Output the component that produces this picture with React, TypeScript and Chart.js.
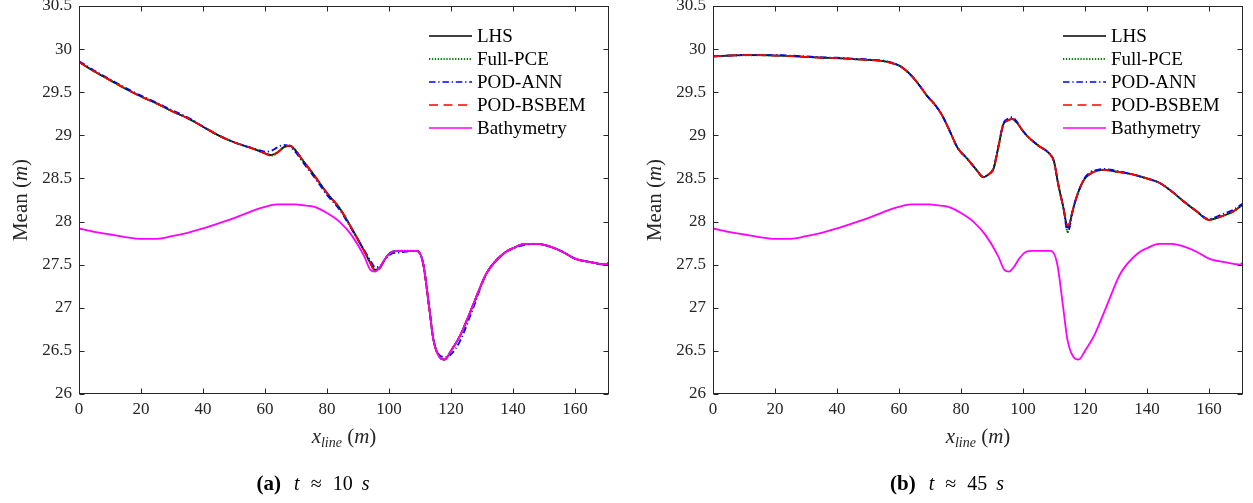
import React, { useEffect, useRef } from "react";
import { Chart, registerables } from "chart.js";
Chart.register(...registerables);

const FAM = "'Liberation Serif', 'Times New Roman', serif";

const SERIES = ["LHS", "Full-PCE", "POD-ANN", "POD-BSBEM", "Bathymetry"];
const COLORS = ["#000000", "#008000", "#0000ff", "#ff0000", "#ff00ff"];
const DASHES = [[], [1.3, 1.6], [6.5, 2.8, 1.3, 2.8], [9, 5.5], []];

const X_TICKS = [0, 20, 40, 60, 80, 100, 120, 140, 160];
const Y_TICKS = [26, 26.5, 27, 27.5, 28, 28.5, 29, 29.5, 30, 30.5];
const X_MIN = 0;
const X_MAX = 171;
const Y_MIN = 26;
const Y_MAX = 30.5;

// ---- panel (a): t ≈ 10 s, and the bathymetry (shared) ----
const xA = [0, 5, 10, 15, 20, 25, 30, 35, 40, 45, 50, 55, 58, 60, 62, 64, 66, 68, 70, 72, 76, 80, 84, 88, 92, 94, 95.5, 97, 99, 101, 103, 109, 111, 113, 114.3, 116.3, 118, 120, 123, 127, 131.5, 137, 140, 144, 148, 152, 156, 160, 165, 170, 171];

const bathy = [27.92, 27.88, 27.85, 27.82, 27.80, 27.80, 27.83, 27.87, 27.92, 27.98,
  28.04, 28.11, 28.15, 28.17, 28.19, 28.20, 28.20, 28.20, 28.20, 28.19,
  28.17, 28.10, 28.00, 27.84, 27.60, 27.44, 27.42, 27.47, 27.58, 27.65,
  27.66, 27.66, 27.52, 27.00, 26.64, 26.43, 26.40, 26.50, 26.68, 27.02,
  27.40, 27.63, 27.69, 27.74, 27.74, 27.71, 27.65, 27.57, 27.53, 27.50,
  27.53];

const lhsA = [29.85, 29.74, 29.64, 29.54, 29.45, 29.37, 29.28, 29.20, 29.10, 29.00,
  28.92, 28.86, 28.82, 28.79, 28.77, 28.80, 28.86, 28.88, 28.82, 28.72,
  28.53, 28.33, 28.16, 27.92, 27.66, 27.52, 27.44, 27.46, 27.58, 27.65,
  27.66, 27.66, 27.52, 27.00, 26.64, 26.43, 26.40, 26.50, 26.68, 27.02,
  27.40, 27.63, 27.69, 27.74, 27.74, 27.71, 27.65, 27.57, 27.53, 27.50,
  27.53];

const pceA = [29.85, 29.74, 29.64, 29.54, 29.45, 29.37, 29.28, 29.20, 29.10, 29.00,
  28.92, 28.86, 28.82, 28.79, 28.765, 28.80, 28.86, 28.88, 28.82, 28.72,
  28.53, 28.33, 28.16, 27.92, 27.66, 27.52, 27.43, 27.46, 27.58, 27.65,
  27.66, 27.66, 27.52, 27.00, 26.64, 26.43, 26.40, 26.50, 26.68, 27.02,
  27.40, 27.63, 27.69, 27.74, 27.74, 27.71, 27.65, 27.57, 27.53, 27.50,
  27.53];

const annA = [29.86, 29.75, 29.65, 29.55, 29.46, 29.38, 29.29, 29.21, 29.10, 29.00,
  28.92, 28.86, 28.83, 28.81, 28.82, 28.86, 28.89, 28.87, 28.80, 28.70,
  28.51, 28.31, 28.14, 27.91, 27.67, 27.55, 27.47, 27.48, 27.57, 27.63,
  27.64, 27.66, 27.52, 27.00, 26.64, 26.45, 26.43, 26.46, 26.62, 26.98,
  27.40, 27.63, 27.69, 27.73, 27.74, 27.71, 27.65, 27.57, 27.53, 27.50,
  27.53];

const bsbemA = [29.85, 29.74, 29.64, 29.54, 29.45, 29.37, 29.28, 29.20, 29.10, 29.00,
  28.92, 28.86, 28.82, 28.79, 28.76, 28.80, 28.86, 28.88, 28.82, 28.72,
  28.53, 28.33, 28.16, 27.92, 27.66, 27.52, 27.43, 27.46, 27.58, 27.65,
  27.66, 27.66, 27.52, 27.00, 26.64, 26.43, 26.40, 26.50, 26.68, 27.02,
  27.40, 27.63, 27.69, 27.74, 27.74, 27.71, 27.65, 27.57, 27.53, 27.50,
  27.53];

// ---- panel (b): t ≈ 45 s ----
const xB = [0, 5, 10, 15, 20, 25, 30, 35, 40, 45,
  50, 55, 58, 60, 62, 64.6, 67, 69, 71.5, 73.8,
  76, 79, 82, 85, 87.2, 89, 90.5, 92, 93.7, 95,
  96.5, 98, 100, 102, 105, 108.5, 110, 111.4, 113, 114.5,
  116, 117, 118.5, 120, 122, 124, 126, 130, 135, 140,
  144, 148, 152, 156, 160, 164, 168, 171];

const lhsB = [29.915, 29.925, 29.93, 29.93, 29.925, 29.92, 29.91, 29.90, 29.895, 29.885,
  29.875, 29.86, 29.835, 29.81, 29.76, 29.67, 29.56, 29.46, 29.36, 29.24,
  29.08, 28.85, 28.73, 28.60, 28.515, 28.55, 28.61, 28.85, 29.13, 29.17,
  29.19, 29.15, 29.05, 28.97, 28.88, 28.79, 28.70, 28.43, 28.17, 27.93,
  28.12, 28.25, 28.40, 28.50, 28.56, 28.59, 28.60, 28.58, 28.55, 28.50,
  28.45, 28.35, 28.23, 28.12, 28.02, 28.06, 28.12, 28.20];

const pceB = [29.915, 29.925, 29.93, 29.93, 29.925, 29.92, 29.91, 29.90, 29.895, 29.885,
  29.875, 29.86, 29.835, 29.81, 29.76, 29.67, 29.56, 29.46, 29.36, 29.24,
  29.08, 28.85, 28.73, 28.60, 28.515, 28.55, 28.61, 28.85, 29.13, 29.17,
  29.19, 29.15, 29.05, 28.97, 28.88, 28.79, 28.70, 28.43, 28.17, 27.88,
  28.12, 28.25, 28.40, 28.50, 28.56, 28.59, 28.60, 28.58, 28.55, 28.50,
  28.45, 28.35, 28.23, 28.12, 28.02, 28.06, 28.12, 28.20];

const annB = [29.915, 29.925, 29.93, 29.93, 29.93, 29.925, 29.915, 29.905, 29.90, 29.89,
  29.88, 29.865, 29.84, 29.81, 29.76, 29.67, 29.56, 29.46, 29.36, 29.24,
  29.08, 28.85, 28.73, 28.60, 28.52, 28.55, 28.62, 28.86, 29.14, 29.19,
  29.21, 29.16, 29.05, 28.97, 28.88, 28.79, 28.70, 28.43, 28.17, 27.88,
  28.12, 28.25, 28.40, 28.51, 28.58, 28.60, 28.61, 28.59, 28.55, 28.50,
  28.45, 28.35, 28.23, 28.12, 28.03, 28.08, 28.14, 28.21];

const bsbemB = [29.915, 29.925, 29.93, 29.93, 29.925, 29.92, 29.91, 29.90, 29.895, 29.885,
  29.875, 29.86, 29.835, 29.81, 29.76, 29.67, 29.56, 29.46, 29.36, 29.24,
  29.08, 28.85, 28.73, 28.60, 28.515, 28.55, 28.61, 28.85, 29.13, 29.17,
  29.19, 29.15, 29.05, 28.97, 28.88, 28.79, 28.70, 28.43, 28.17, 27.95,
  28.12, 28.25, 28.40, 28.50, 28.56, 28.59, 28.60, 28.58, 28.55, 28.50,
  28.45, 28.35, 28.23, 28.12, 28.02, 28.06, 28.12, 28.20];

type Run = { t: string; font: string; dy?: number };

function drawRuns(ctx: CanvasRenderingContext2D, runs: Run[], cx: number, baseY: number) {
  let w = 0;
  for (const r of runs) {
    ctx.font = r.font;
    w += ctx.measureText(r.t).width;
  }
  let x = cx - w / 2;
  ctx.textAlign = "left";
  ctx.textBaseline = "alphabetic";
  for (const r of runs) {
    ctx.font = r.font;
    ctx.fillText(r.t, x, baseY + (r.dy || 0));
    x += ctx.measureText(r.t).width;
  }
}

const framePlugin = {
  id: "matlabFrame",
  afterDraw(chart: any) {
    const { ctx, chartArea: a, scales } = chart;
    const xs = scales.x;
    const ys = scales.y;
    ctx.save();
    const L = Math.round(a.left) + 0.5;
    const T = Math.round(a.top) + 0.5;
    const R = Math.round(a.right) - 0.5;
    const B = Math.round(a.bottom) - 0.5;
    ctx.strokeStyle = "#262626";
    ctx.lineWidth = 1;
    ctx.setLineDash([]);
    ctx.strokeRect(L, T, R - L, B - T);
    const tl = 5;
    ctx.beginPath();
    for (const t of X_TICKS) {
      const px = Math.round(xs.getPixelForValue(t)) + 0.5;
      ctx.moveTo(px, B);
      ctx.lineTo(px, B - tl);
      ctx.moveTo(px, T);
      ctx.lineTo(px, T + tl);
    }
    for (const t of Y_TICKS) {
      const py = Math.round(ys.getPixelForValue(t)) + 0.5;
      ctx.moveTo(L, py);
      ctx.lineTo(L + tl, py);
      ctx.moveTo(R, py);
      ctx.lineTo(R - tl, py);
    }
    ctx.stroke();

    // legend
    const ds = chart.data.datasets;
    for (let i = 0; i < SERIES.length; i++) {
      const d = ds[i];
      const yRow = a.top + 30 + i * 23;
      ctx.beginPath();
      ctx.strokeStyle = d.borderColor;
      ctx.lineWidth = i === 1 ? 2 : 1.6;
      ctx.setLineDash(d.borderDash || []);
      ctx.moveTo(a.left + 350, yRow);
      ctx.lineTo(a.left + 393, yRow);
      ctx.stroke();
      ctx.setLineDash([]);
      ctx.fillStyle = "#000";
      ctx.font = `19px ${FAM}`;
      ctx.textAlign = "left";
      ctx.textBaseline = "middle";
      ctx.fillText(SERIES[i], a.left + 398, yRow + 1);
    }

    // axis titles
    ctx.fillStyle = "#262626";
    const cx = (a.left + a.right) / 2;
    drawRuns(
      ctx,
      [
        { t: "x", font: `italic 21px ${FAM}` },
        { t: "line", font: `italic 14px ${FAM}`, dy: 4 },
        { t: " (", font: `21px ${FAM}` },
        { t: "m", font: `italic 21px ${FAM}` },
        { t: ")", font: `21px ${FAM}` },
      ],
      cx,
      443
    );
    ctx.save();
    ctx.translate(27, (a.top + a.bottom) / 2);
    ctx.rotate(-Math.PI / 2);
    drawRuns(
      ctx,
      [
        { t: "Mean (", font: `21px ${FAM}` },
        { t: "m", font: `italic 21px ${FAM}` },
        { t: ")", font: `21px ${FAM}` },
      ],
      0,
      0
    );
    ctx.restore();
    ctx.restore();
  },
};

function makeConfig(xs: number[], series: number[][], padRight: number): any {
  const datasets = SERIES.map((name, i) => {
    const xx = i === 4 ? xA : xs;
    const yy = i === 4 ? bathy : series[i];
    return {
      label: name,
      data: xx.map((x, j) => ({ x, y: yy[j] })),
      borderColor: COLORS[i],
      backgroundColor: COLORS[i],
      borderDash: DASHES[i],
      borderWidth: i === 1 ? 2 : 1.8,
      pointRadius: 0,
      fill: false,
      cubicInterpolationMode: "monotone",
      order: SERIES.length - 1 - i,
    };
  });
  const tickFont = { family: FAM, size: 17 };
  return {
    type: "line",
    data: { datasets },
    options: {
      animation: false,
      responsive: false,
      maintainAspectRatio: false,
      events: [],
      layout: { padding: { top: 6, right: padRight, left: 0, bottom: 0 } },
      plugins: { legend: { display: false }, tooltip: { enabled: false }, title: { display: false } },
      scales: {
        x: {
          type: "linear",
          min: X_MIN,
          max: X_MAX,
          grid: { display: false, drawTicks: false },
          border: { display: false },
          ticks: {
            stepSize: 20,
            includeBounds: false,
            autoSkip: false,
            maxRotation: 0,
            padding: 5,
            color: "#262626",
            font: tickFont,
            callback: (v: number) => String(v),
          },
          afterFit: (s: any) => {
            s.height = 109;
            s.paddingLeft = 0;
            s.paddingRight = 0;
          },
        },
        y: {
          type: "linear",
          min: Y_MIN,
          max: Y_MAX,
          grid: { display: false, drawTicks: false },
          border: { display: false },
          ticks: {
            stepSize: 0.5,
            includeBounds: false,
            autoSkip: false,
            padding: 7,
            color: "#262626",
            font: tickFont,
            callback: (v: number) => String(v),
          },
          afterFit: (s: any) => {
            s.width = 79;
            s.paddingTop = 0;
            s.paddingBottom = 0;
          },
        },
      },
    },
    plugins: [framePlugin],
  };
}

function Panel(props: { left: number; width: number; xs: number[]; series: number[][]; padRight: number }) {
  const ref = useRef<HTMLCanvasElement>(null);
  useEffect(() => {
    if (!ref.current) return;
    const chart = new Chart(ref.current, makeConfig(props.xs, props.series, props.padRight));
    return () => chart.destroy();
  }, []);
  return (
    <canvas
      ref={ref}
      width={props.width}
      height={503}
      style={{ position: "absolute", left: props.left, top: 0, width: props.width, height: 503 }}
    />
  );
}

function Caption(props: { cx: number; tag: string; time: string }) {
  return (
    <div
      style={{
        position: "absolute",
        left: props.cx - 120,
        top: 470,
        width: 240,
        textAlign: "center",
        fontFamily: FAM,
        fontSize: 20,
        lineHeight: "26px",
        color: "#000",
        whiteSpace: "nowrap",
      }}
    >
      <b style={{ fontSize: 21 }}>({props.tag})</b>
      <i style={{ marginLeft: 13 }}>t</i>
      <span style={{ margin: "0 11px" }}>≈</span>
      <span>{props.time}</span>
      <i style={{ marginLeft: 9 }}>s</i>
    </div>
  );
}

export default function App() {
  return (
    <div style={{ position: "absolute", left: 0, top: 0, width: 1253, height: 503, background: "#fff", overflow: "hidden" }}>
      <Panel left={0} width={627} xs={xA} series={[lhsA, pceA, annA, bsbemA]} padRight={18} />
      <Panel left={634} width={619} xs={xB} series={[lhsB, pceB, annB, bsbemB]} padRight={10} />
      <Caption cx={313} tag="a" time="10" />
      <Caption cx={947} tag="b" time="45" />
    </div>
  );
}
